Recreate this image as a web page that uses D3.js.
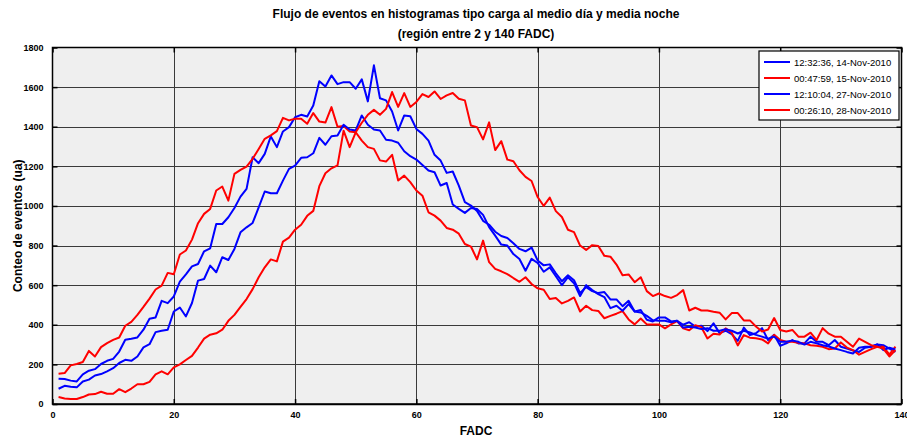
<!DOCTYPE html>
<html>
<head>
<meta charset="utf-8">
<script src="https://cdn.jsdelivr.net/npm/d3@7"></script>
<style>
  html, body { margin: 0; padding: 0; background: #ffffff; }
  svg { display: block; }
  text { font-family: "Liberation Sans", Arial, Helvetica, sans-serif; }
</style>
</head>
<body>
<svg id="chart" width="907" height="437"></svg>
<script>
// FADC channel range and axis ticks
const fadcStart = 1;
const xTicks = [0, 20, 40, 60, 80, 100, 120, 140];
const yTicks = [0, 200, 400, 600, 800, 1000, 1200, 1400, 1600, 1800];

const seriesNames = [
  "12:32:36, 14-Nov-2010",
  "00:47:59, 15-Nov-2010",
  "12:10:04, 27-Nov-2010",
  "00:26:10, 28-Nov-2010"
];
const seriesColors = ["#0000ff", "#ff0000", "#0000ff", "#ff0000"];

// event counts per FADC channel (1..139)
const counts14Nov = [
  128, 126, 118, 114, 150, 168, 176, 202, 218, 228,
  265, 324, 329, 336, 375, 430, 437, 521, 509, 543,
  618, 655, 695, 707, 771, 786, 909, 909, 943, 990,
  1047, 1086, 1246, 1216, 1263, 1351, 1297, 1376, 1398, 1448,
  1460, 1452, 1507, 1630, 1603, 1659, 1615, 1625, 1625, 1592,
  1639, 1528, 1710, 1544, 1533, 1477, 1381, 1457, 1453, 1389,
  1364, 1330, 1258, 1229, 1167, 1174, 1103, 1019, 1002, 975,
  925, 905, 870, 848, 838, 812, 783, 771, 790, 725,
  700, 705, 660, 620, 650, 625, 560, 590, 570, 560,
  565, 528, 528, 494, 521, 467, 475, 425, 417, 437,
  437, 417, 420, 400, 413, 391, 395, 368, 407, 358,
  370, 353, 319, 386, 348, 357, 383, 323, 349, 294,
  306, 323, 306, 306, 340, 314, 314, 297, 323, 289,
  280, 270, 263, 284, 289, 301, 297, 280, 263
];
const counts15Nov = [
  153, 156, 195, 202, 212, 268, 240, 287, 307, 324,
  336, 395, 415, 450, 490, 532, 578, 598, 662, 655,
  755, 775, 830, 913, 960, 985, 1078, 1098, 1027, 1162,
  1182, 1199, 1238, 1288, 1339, 1356, 1378, 1445, 1432, 1440,
  1440, 1415, 1469, 1426, 1421, 1499, 1400, 1404, 1376, 1372,
  1330, 1297, 1288, 1230, 1224, 1258, 1128, 1153, 1120, 1078,
  1052, 968, 951, 926, 889, 880, 860, 808, 795, 730,
  825, 716, 682, 670, 656, 636, 617, 640, 606, 584,
  577, 530, 535, 508, 521, 538, 467, 496, 474, 470,
  433, 445, 456, 469, 427, 402, 432, 402, 402, 402,
  382, 402, 419, 382, 372, 398, 388, 331, 355, 351,
  382, 360, 296, 348, 335, 332, 326, 306, 349, 323,
  314, 314, 309, 306, 297, 294, 289, 277, 280, 311,
  285, 272, 249, 263, 277, 289, 289, 250, 290
];
const counts27Nov = [
  77, 92, 87, 84, 114, 123, 144, 151, 165, 181,
  207, 223, 218, 240, 286, 302, 363, 370, 375, 467,
  487, 442, 510, 623, 631, 699, 665, 741, 727, 783,
  867, 892, 914, 993, 1073, 1064, 1064, 1128, 1187, 1204,
  1243, 1246, 1266, 1344, 1309, 1352, 1356, 1410, 1386, 1381,
  1457, 1410, 1386, 1381, 1334, 1330, 1319, 1276, 1251, 1234,
  1207, 1179, 1170, 1103, 1116, 1007, 985, 965, 990, 985,
  955, 893, 850, 805, 800, 757, 732, 673, 733, 712,
  668, 690, 645, 600, 640, 610, 545, 600, 575, 555,
  540, 484, 496, 471, 504, 467, 462, 445, 423, 420,
  420, 412, 420, 386, 390, 386, 378, 383, 370, 370,
  378, 370, 356, 370, 361, 349, 340, 330, 340, 314,
  314, 320, 314, 300, 314, 306, 297, 290, 280, 272,
  263, 255, 284, 289, 289, 301, 272, 284, 275
];
const counts28Nov = [
  35, 28, 25, 25, 35, 48, 50, 62, 52, 52,
  75, 60, 78, 100, 100, 112, 150, 165, 150, 185,
  200, 222, 243, 285, 330, 350, 357, 375, 420, 450,
  490, 530, 580, 640, 690, 730, 720, 820, 840, 880,
  905, 950, 975, 1100, 1165, 1190, 1205, 1380, 1297, 1372,
  1420, 1460, 1485, 1460, 1490, 1575, 1500, 1570, 1500, 1525,
  1565, 1550, 1578, 1540, 1558, 1570, 1541, 1533, 1406, 1398,
  1336, 1422, 1282, 1327, 1234, 1226, 1180, 1147, 1126, 1045,
  1000, 1042, 974, 944, 880, 868, 800, 778, 802, 798,
  748, 744, 704, 650, 654, 615, 640, 570, 545, 558,
  545, 536, 550, 575, 472, 486, 472, 472, 466, 461,
  427, 459, 459, 422, 422, 391, 366, 376, 434, 374,
  366, 374, 340, 340, 360, 323, 383, 355, 340, 340,
  314, 289, 330, 314, 297, 289, 280, 240, 272
];

const allCounts = [counts14Nov, counts15Nov, counts27Nov, counts28Nov];

const svg = d3.select("#chart");
const plotLeft = 52.5, plotRight = 901.5, plotTop = 47.5, plotBottom = 404;

const x = d3.scaleLinear().domain([0, 140]).range([plotLeft, plotRight]);
const y = d3.scaleLinear().domain([0, 1800]).range([plotBottom, plotTop]);

// plot background
svg.append("rect")
  .attr("x", plotLeft).attr("y", plotTop)
  .attr("width", plotRight - plotLeft).attr("height", plotBottom - plotTop)
  .attr("fill", "#efefef");

// grid
const grid = svg.append("g").attr("stroke", "#3a3a3a").attr("stroke-width", 1).attr("shape-rendering", "crispEdges");
grid.selectAll("line.gx").data(xTicks.slice(1, -1)).join("line")
  .attr("x1", d => Math.round(x(d)) + 0.5).attr("x2", d => Math.round(x(d)) + 0.5)
  .attr("y1", plotTop).attr("y2", plotBottom);
grid.selectAll("line.gy").data(yTicks.slice(1, -1)).join("line")
  .attr("y1", d => Math.round(y(d)) + 0.5).attr("y2", d => Math.round(y(d)) + 0.5)
  .attr("x1", plotLeft).attr("x2", plotRight);

// axes with inward ticks
const tickFont = "bold 9px 'Liberation Sans', Arial, sans-serif";
const plain = d3.format("d");
const xAxis = d3.axisBottom(x).tickValues(xTicks).tickFormat(plain)
  .tickSizeInner(-5).tickSizeOuter(0).tickPadding(8);
const yAxis = d3.axisLeft(y).tickValues(yTicks).tickFormat(plain)
  .tickSizeInner(-5).tickSizeOuter(0).tickPadding(9);

svg.append("g").attr("transform", `translate(0,${plotBottom})`).call(xAxis);
svg.append("g").attr("transform", `translate(${plotLeft},0)`).call(yAxis);
svg.append("g").attr("transform", `translate(0,${plotTop})`)
  .call(d3.axisTop(x).tickValues(xTicks).tickSizeInner(-5).tickSizeOuter(0).tickFormat(""));
svg.append("g").attr("transform", `translate(${plotRight},0)`)
  .call(d3.axisRight(y).tickValues(yTicks).tickSizeInner(-5).tickSizeOuter(0).tickFormat(""));

svg.selectAll(".domain").remove();
svg.selectAll(".tick line").attr("stroke", "#000").attr("stroke-width", 1.5);
svg.selectAll(".tick text").style("font", tickFont).attr("fill", "#000");

// series lines
const line = d3.line()
  .x((d, i) => x(fadcStart + i))
  .y(d => y(d));

svg.append("g").selectAll("path").data(allCounts).join("path")
  .attr("d", d => line(d))
  .attr("fill", "none")
  .attr("stroke", (d, i) => seriesColors[i])
  .attr("stroke-width", 2)
  .attr("stroke-linejoin", "round");

// frame
svg.append("rect")
  .attr("x", plotLeft).attr("y", plotTop)
  .attr("width", plotRight - plotLeft).attr("height", plotBottom - plotTop)
  .attr("fill", "none").attr("stroke", "#000").attr("stroke-width", 1.5);
svg.append("line")
  .attr("x1", plotLeft).attr("x2", plotRight).attr("y1", plotBottom + 0.5).attr("y2", plotBottom + 0.5)
  .attr("stroke", "#000").attr("stroke-width", 1.5);

// titles
const labelFont = "bold 12px 'Liberation Sans', Arial, sans-serif";
svg.append("text").attr("x", 476).attr("y", 18).attr("text-anchor", "middle")
  .style("font", labelFont)
  .text("Flujo de eventos en histogramas tipo carga al medio día y media noche");
svg.append("text").attr("x", 476).attr("y", 38).attr("text-anchor", "middle")
  .style("font", labelFont)
  .text("(región entre 2 y 140 FADC)");
svg.append("text").attr("x", 476).attr("y", 434.5).attr("text-anchor", "middle")
  .style("font", labelFont)
  .text("FADC");
svg.append("text")
  .attr("transform", `translate(22,${(plotTop + plotBottom) / 2}) rotate(-90)`)
  .attr("text-anchor", "middle")
  .style("font", labelFont)
  .text("Conteo de eventos (ua)");

// legend
const lg = svg.append("g").attr("transform", "translate(759,51)");
lg.append("rect").attr("width", 140).attr("height", 69)
  .attr("fill", "#ffffff").attr("stroke", "#000").attr("stroke-width", 1.2);
const items = lg.selectAll("g.item").data(seriesNames).join("g")
  .attr("transform", (d, i) => `translate(0,${11 + i * 16})`);
items.append("line").attr("x1", 5).attr("x2", 31).attr("y1", 0).attr("y2", 0)
  .attr("stroke", (d, i) => seriesColors[i]).attr("stroke-width", 2);
items.append("text").attr("x", 35).attr("y", 3.5)
  .style("font", "9.5px 'Liberation Sans', Arial, sans-serif")
  .text(d => d);
</script>
</body>
</html>
